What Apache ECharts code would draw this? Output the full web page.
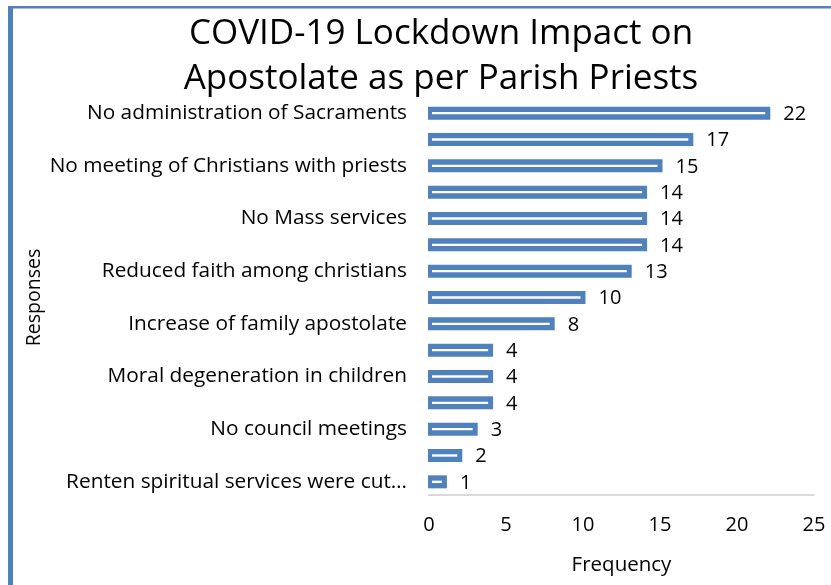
<!DOCTYPE html>
<html>
<head>
<meta charset="utf-8">
<script src="https://cdn.jsdelivr.net/npm/echarts@6/dist/echarts.min.js"></script>
<style>
html,body{margin:0;padding:0;background:#fff;}
#chart{width:831px;height:585px;}
</style>
</head>
<body>
<div id="chart"></div>
<script>
var titleLines = ['COVID-19 Lockdown Impact on', 'Apostolate as per Parish Priests'];
var categories = [
  'No administration of Sacraments',
  'Response 2',
  'No meeting of Christians with priests',
  'Response 4',
  'No Mass services',
  'Response 6',
  'Reduced faith among christians',
  'Response 8',
  'Increase of family apostolate',
  'Response 10',
  'Moral degeneration in children',
  'Response 12',
  'No council meetings',
  'Response 14',
  'Renten spiritual services were cut…'
];
var values = [22, 17, 15, 14, 14, 14, 13, 10, 8, 4, 4, 4, 3, 2, 1];
var xTicks = [0, 5, 10, 15, 20, 25];
var xName = 'Frequency';
var yName = 'Responses';

var FONT = '"Open Sans", sans-serif';
var BLUE = '#4f81bd';

var chart = echarts.init(document.getElementById('chart'), null, {renderer: 'canvas'});
chart.setOption({
  backgroundColor: '#fff',
  animation: false,
  title: {
    text: titleLines.join('\n'),
    left: 436, top: 7, textAlign: 'center',
    textStyle: {fontFamily: FONT, fontSize: 35, fontWeight: 'normal', color: '#000', lineHeight: 45}
  },
  graphic: [
    {type: 'rect', shape: {x: 8, y: 6, width: 830, height: 2.5}, style: {fill: BLUE}},
    {type: 'rect', shape: {x: 8, y: 6, width: 5, height: 600}, style: {fill: BLUE}}
  ],
  grid: {left: 429, right: 17, top: 100, bottom: 90, containLabel: false},
  xAxis: {
    type: 'value', min: xTicks[0], max: xTicks[xTicks.length - 1], interval: 5,
    name: xName, nameLocation: 'middle', nameGap: 60,
    nameTextStyle: {fontFamily: FONT, fontSize: 20.5, color: '#000'},
    axisLine: {show: true, onZero: false, lineStyle: {color: '#d9d9d9', width: 2}},
    axisTick: {show: false}, splitLine: {show: false},
    axisLabel: {fontFamily: FONT, fontSize: 20, color: '#000', margin: 20}
  },
  yAxis: {
    type: 'category', data: categories, inverse: true,
    name: yName, nameLocation: 'middle', nameGap: 385, nameRotate: 90,
    nameTextStyle: {fontFamily: FONT, fontSize: 19.5, color: '#000'},
    axisLine: {show: false},
    axisTick: {show: false},
    axisLabel: {interval: 1, fontFamily: FONT, fontSize: 20.8, color: '#000', margin: 22}
  },
  series: [{
    type: 'custom',
    encode: {x: 0, y: 1},
    data: values.map(function (v, i) { return [v, i]; }),
    renderItem: function (params, api) {
      var v = api.value(0), c = api.value(1);
      var s = api.coord([0, c]), e = api.coord([v, c]);
      var h = 13;
      var x0 = s[0] - 1, x1 = e[0] + 2.5, y = s[1];
      return {
        type: 'group',
        children: [
          {type: 'rect', shape: {x: x0, y: y - h / 2, width: x1 - x0, height: h}, style: {fill: BLUE}},
          {type: 'rect', shape: {x: x0 + 4, y: y - 1.2, width: Math.max(0, x1 - x0 - 9), height: 2.4}, style: {fill: '#fff'}},
          {type: 'text', x: x1 + 13, y: y + 1, style: {text: String(v), fontFamily: FONT, fontSize: 20, fill: '#000', verticalAlign: 'middle'}}
        ]
      };
    }
  }]
});
</script>
</body>
</html>
